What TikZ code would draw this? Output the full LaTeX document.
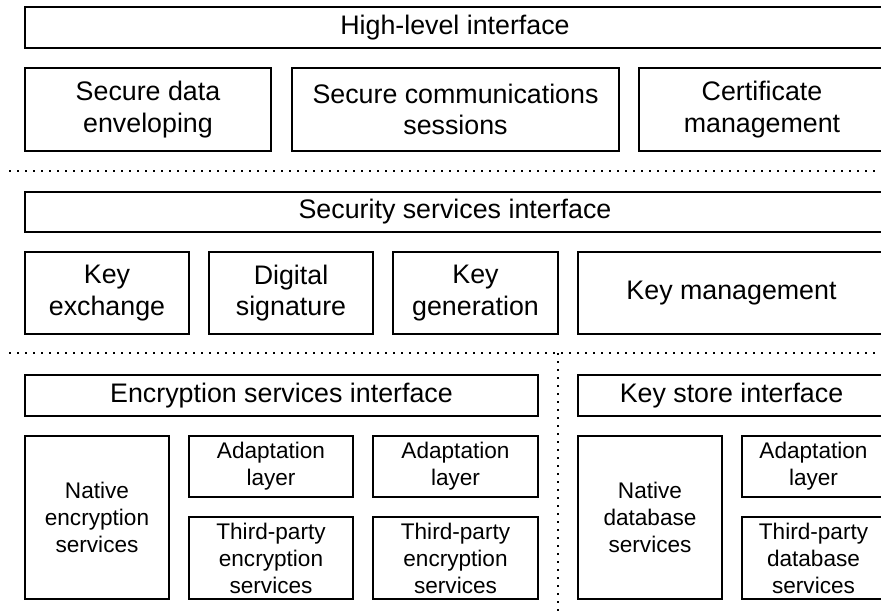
\documentclass[tikz,border=0pt]{standalone}
\usepackage{fontspec}
\setmainfont{Liberation Sans}
\newcommand{\bigtxt}{\fontsize{26.8}{31.5}\selectfont}
\newcommand{\smalltxt}{\fontsize{22.6}{27}\selectfont}
\tikzset{
  blk/.style={draw, line width=1.1pt, inner sep=0pt, outer sep=0pt,
    anchor=north west, align=center, font=\bigtxt},
  sblk/.style={blk, font=\smalltxt},
  sep/.style={line width=1.2pt, dash pattern=on 2pt off 6pt},
}
\begin{document}
\begin{tikzpicture}[x=1pt, y=-1pt]
\useasboundingbox (0,0) rectangle (881,614);
\clip (0,0) rectangle (881,614);

% High level
\node[blk, minimum width=860, minimum height=41] (high) at (25,7) {High-level interface};
\node[blk, minimum width=246, minimum height=83] (envel) at (25,68) {Secure data\\enveloping};
\node[blk, minimum width=327, minimum height=83] (sess) at (292,68) {Secure communications\\sessions};
\node[blk, minimum width=246, minimum height=83] (cert) at (639,68) {Certificate\\management};

\coordinate (sepAw) at (9,171);
\coordinate (sepAe) at (881,171);
\draw[sep] (sepAw) -- (sepAe);

% Security services
\node[blk, minimum width=860, minimum height=40] (secif) at (25,192) {Security services interface};
\node[blk, minimum width=164, minimum height=82] (kex) at (25,252) {Key\\exchange};
\node[blk, minimum width=164, minimum height=82] (dsig) at (209,252) {Digital\\signature};
\node[blk, minimum width=165, minimum height=82] (kgen) at (393,252) {Key\\generation};
\node[blk, minimum width=307, minimum height=82] (kman) at (578,252) {Key management};

\coordinate (sepBw) at (9,353);
\coordinate (sepBe) at (881,353);
\coordinate (sepCn) at (558,353);
\coordinate (sepCs) at (558,614);
\draw[sep] (sepBw) -- (sepBe);
\draw[sep] (sepCn) -- (sepCs);

% Encryption services
\node[blk, minimum width=513, minimum height=41] (encif) at (25,375) {Encryption services interface};
\node[sblk, minimum width=144, minimum height=163] (natenc) at (25,436) {Native\\encryption\\services};
\node[sblk, minimum width=164, minimum height=61] (adaA) at (189,436) {Adaptation\\layer};
\node[sblk, minimum width=164, minimum height=82] (thdA) at (189,517) {Third-party\\encryption\\services};
\node[sblk, minimum width=165, minimum height=61] (adaB) at (373,436) {Adaptation\\layer};
\node[sblk, minimum width=165, minimum height=82] (thdB) at (373,517) {Third-party\\encryption\\services};

% Key store
\node[blk, minimum width=307, minimum height=41] (ksif) at (578,375) {Key store interface};
\node[sblk, minimum width=144, minimum height=163] (natdb) at (578,436) {Native\\database\\services};
\node[sblk, minimum width=143, minimum height=61] (adaC) at (742,436) {Adaptation\\layer};
\node[sblk, minimum width=143, minimum height=82] (thdC) at (742,517) {Third-party\\database\\services};
\end{tikzpicture}
\end{document}
